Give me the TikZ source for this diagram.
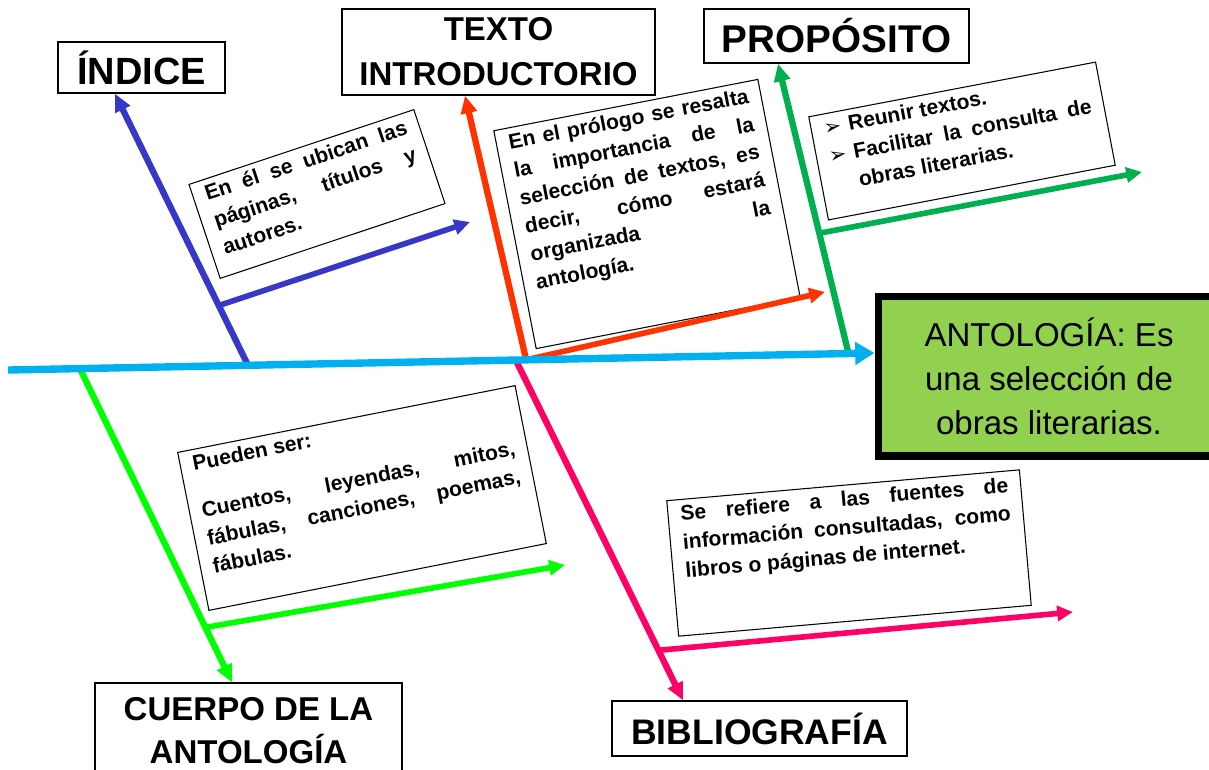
\documentclass[tikz,border=0pt]{standalone}
\usepackage{fontspec}
\setmainfont{Liberation Sans}
\newfontfamily\dingfont{DejaVu Sans}
\usetikzlibrary{arrows.meta, positioning, calc}
\setlength{\parindent}{0pt}
\definecolor{espina}{RGB}{0,176,240}
\definecolor{azulind}{RGB}{55,55,200}
\definecolor{rojotexto}{RGB}{255,51,0}
\definecolor{verdeprop}{RGB}{0,176,80}
\definecolor{verdecuerpo}{RGB}{0,255,0}
\definecolor{rosabib}{RGB}{255,0,102}
\definecolor{verdeefecto}{RGB}{146,208,80}
\tikzset{
    % Cause labels
    causa/.style={draw, line width=0.8pt, fill=white, align=center, font=\bfseries\fontsize{18.8}{25.6}\selectfont},
    % Note boxes along the bones
    nota/.style={draw, line width=0.6pt, fill=white, inner xsep=0.25cm, inner ysep=0.12cm, font=\bfseries\fontsize{12}{16.2}\selectfont},
    % Bones and branches
    hueso/.style={line width=3.6pt, -{Triangle[length=10pt, width=9pt]}},
    rama/.style={line width=3.2pt, -{Triangle[length=9pt, width=8.5pt]}}
}

\begin{document}
\begin{tikzpicture}[x=0.02cm, y=-0.02cm]
        \useasboundingbox (0,0) rectangle (1209,769);

        % Effect box
        \node[draw, line width=4pt, fill=verdeefecto, minimum width=6.84cm, minimum height=3.2cm, align=center, font=\fontsize{18.8}{25}\selectfont] (efecto) at (1049,376) {ANTOLOGÍA: Es\\una selección de\\obras literarias.};

        % Cause labels
        \node[causa, minimum width=3.34cm, minimum height=1.02cm, font=\bfseries\fontsize{21.6}{25}\selectfont] (indice) at (141.5,67.5) {ÍNDICE};
        \node[causa, minimum width=6.26cm, minimum height=1.72cm] (texto) at (498.5,52) {TEXTO\\INTRODUCTORIO};
        \node[causa, minimum width=5.3cm, minimum height=1.08cm, font=\bfseries\fontsize{22}{25}\selectfont] (proposito) at (836.5,36) {PROPÓSITO};
        \node[causa, minimum width=6.14cm, minimum height=1.92cm, font=\bfseries\fontsize{18.8}{24.5}\selectfont] (cuerpo) at (248.5,731) {CUERPO DE LA\\ANTOLOGÍA};
        \node[causa, minimum width=5.9cm, minimum height=1.1cm, font=\bfseries\fontsize{20.2}{25}\selectfont] (biblio) at (759.5,728.5) {BIBLIOGRAFÍA};

        % Notes
        \node[nota, rotate=18.4] (nindice) at (317,194) {\parbox[c][1.74cm][t]{4.24cm}{En él se ubican las\linebreak páginas, títulos y\linebreak autores.}};
        \node[nota, rotate=11] (ntexto) at (647,214) {\parbox[c][4.2cm][t]{4.88cm}{En el prólogo se resalta\linebreak la importancia de la\linebreak selección de textos, es\linebreak decir, cómo estará\linebreak organizada la\linebreak antología.}};
        \node[nota, rotate=10.8] (nproposito) at (962,141) {\parbox[c][1.86cm][t]{5.34cm}{\hangindent=0.5cm \hangafter=1 \makebox[0.5cm][l]{\dingfont ➢}Reunir textos.\par
            \hangindent=0.5cm \hangafter=1 \makebox[0.5cm][l]{\dingfont ➢}Facilitar la consulta de\linebreak obras literarias.}};
        \node[nota, rotate=11.2] (ncuerpo) at (362,498) {\parbox[c][2.98cm][t]{6.38cm}{Pueden ser:\par\vspace{0.38cm}Cuentos, leyendas, mitos,\linebreak fábulas, canciones, poemas,\linebreak fábulas.}};
        \node[nota, rotate=5] (nbiblio) at (849,553) {\parbox[c][2.48cm][t]{6.58cm}{Se refiere a las fuentes de\linebreak información consultadas, como\linebreak libros o páginas de internet.}};

        % Spine ends
        \coordinate (cola) at (8,370);
        \coordinate (cabeza) at ([yshift=0.46cm]efecto.west);

        % Bones (base on the spine, tip at the label)
        \coordinate (i0) at ($(cola)!0.277!(cabeza)$);
        \coordinate (i1) at ([xshift=-0.53cm]indice.south);
        \coordinate (t0) at ($(cola)!0.598!(cabeza)$);
        \coordinate (t1) at ([xshift=-0.67cm]texto.south);
        \coordinate (p0) at ($(cola)!0.97!(cabeza)$);
        \coordinate (p1) at ([xshift=-1.17cm]proposito.south);
        \coordinate (c0) at ($(cola)!0.083!(cabeza)$);
        \coordinate (c1) at ([xshift=-0.33cm]cuerpo.north);
        \coordinate (b0) at ($(cola)!0.586!(cabeza)$);
        \coordinate (b1) at ([xshift=-1.53cm]biblio.north);

        \draw[hueso, azulind] (i0) -- (i1);
        \draw[hueso, rojotexto] (t0) -- (t1);
        \draw[hueso, verdeprop] (p0) -- (p1);
        \draw[hueso, verdecuerpo] (c0) -- (c1);
        \draw[hueso, rosabib] (b0) -- (b1);

        % Branches under the notes
        \coordinate (ib) at (470,222);
        \coordinate (tb) at (825,292);
        \coordinate (pb) at (1142,172);
        \coordinate (cb) at (565,565);
        \coordinate (bb) at (1073,612);
        \draw[rama, azulind] ($(i0)!0.22!(i1)$) -- (ib);
        \draw[rama, rojotexto] (t0) -- (tb);
        \draw[rama, verdeprop] ($(p0)!0.415!(p1)$) -- (pb);
        \draw[rama, verdecuerpo] ($(c0)!0.825!(c1)$) -- (cb);
        \draw[rama, rosabib] ($(b0)!0.853!(b1)$) -- (bb);

        % Spine
        \draw[espina, line width=4.2pt, -{Triangle[length=11pt, width=12.5pt]}] (cola) -- (cabeza);
\end{tikzpicture}
\end{document}
